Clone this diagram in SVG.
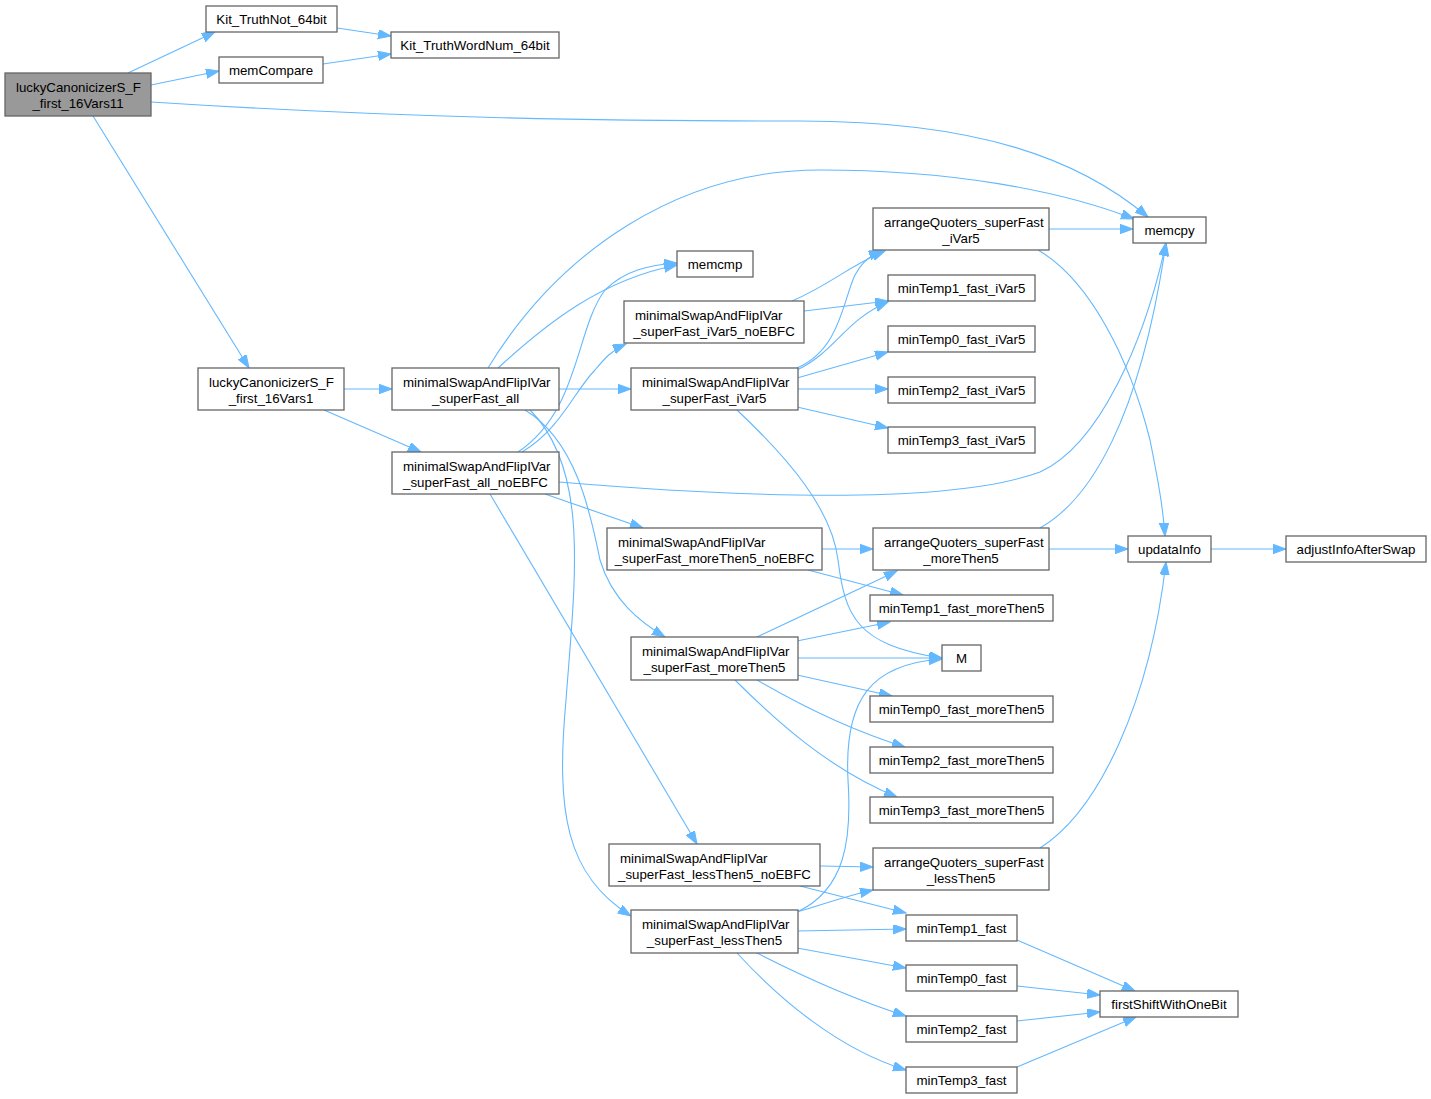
<svg xmlns="http://www.w3.org/2000/svg" width="1431" height="1099" viewBox="0 0 1431 1099">
<defs>
<style>
.n rect{fill:#ffffff;stroke:#666666;stroke-width:1.3}
.n.root rect{fill:#999999}
.n text{font-family:"Liberation Sans",Arial,sans-serif;font-size:13.3px;fill:#000000}
.m{text-anchor:middle}
.s{text-anchor:start}
#edges path{fill:none;stroke:#63b8ff;stroke-width:1.1;marker-end:url(#ah)}
</style>
<marker id="ah" markerUnits="userSpaceOnUse" markerWidth="15" markerHeight="11" refX="13" refY="4.7" orient="auto">
<path d="M0,0 L13,4.7 L0,9.4 z" fill="#63b8ff" stroke="#63b8ff" stroke-width="1"/>
</marker>
</defs>
<rect width="1431" height="1099" fill="#ffffff"/>
<g id="edges">
<path d="M128,73 L215,32"/>
<path d="M151,85 L219,71"/>
<path d="M337,28 L391,36"/>
<path d="M323,64 L391,54"/>
<path d="M151,102 C400,118 600,121 800,121 C980,121 1080,160 1148,217"/>
<path d="M93,116 L249,368"/>
<path d="M344,389 L392,389"/>
<path d="M324,410 L421,452"/>
<path d="M488,368 C560,250 680,170 820,170 C950,170 1060,190 1134,219"/>
<path d="M498,368 C545,325 600,280 677,265"/>
<path d="M518,452 C580,410 575,330 605,290 C625,270 650,265 677,263"/>
<path d="M522,452 C560,430 575,390 595,370 C605,358 612,350 626,344"/>
<path d="M559,389 L631,389"/>
<path d="M525,410 C575,440 590,510 600,560 C612,600 640,622 665,637"/>
<path d="M530,410 C590,470 575,580 566,700 C556,810 565,875 631,916"/>
<path d="M792,301 C830,285 850,265 885,251"/>
<path d="M797,368 C840,350 843,300 855,275 C862,262 870,255 882,251"/>
<path d="M804,311 L888,301"/>
<path d="M797,370 C835,352 845,320 888,302"/>
<path d="M797,378 L888,352"/>
<path d="M797,389 L888,389"/>
<path d="M797,407 L888,428"/>
<path d="M737,410 C790,460 832,510 838,560 C845,615 855,645 942,658"/>
<path d="M1049,229 L1133,229"/>
<path d="M1038,250 C1090,280 1130,360 1150,440 C1160,490 1163,510 1165,536"/>
<path d="M559,482 C750,498 950,505 1040,472 C1100,445 1145,340 1166,243"/>
<path d="M1040,528 C1090,500 1140,420 1166,243"/>
<path d="M1049,549 L1128,549"/>
<path d="M1211,549 L1286,549"/>
<path d="M1040,848 C1100,810 1150,700 1166,562"/>
<path d="M545,494 L643,528"/>
<path d="M490,494 L697,844"/>
<path d="M822,549 L873,549"/>
<path d="M808,570 L903,595"/>
<path d="M757,637 L897,571"/>
<path d="M797,641 L890,622"/>
<path d="M797,658 L942,658"/>
<path d="M797,675 L892,696"/>
<path d="M757,680 C800,705 850,730 905,747"/>
<path d="M735,680 C775,720 830,770 897,797"/>
<path d="M797,912 C845,890 852,840 848,780 C844,700 870,664 942,659"/>
<path d="M820,866 L873,867"/>
<path d="M800,886 L906,913"/>
<path d="M797,912 C830,902 850,895 873,890"/>
<path d="M797,931 L906,929"/>
<path d="M797,948 L906,968"/>
<path d="M757,953 C800,975 850,998 906,1016"/>
<path d="M737,953 C780,1000 840,1050 906,1070"/>
<path d="M1017,940 L1135,991"/>
<path d="M1017,986 L1100,995"/>
<path d="M1017,1021 L1100,1012"/>
<path d="M1017,1067 L1136,1017"/>
</g>
<g id="n0" class="n root"><rect x="5" y="73" width="146" height="43"/><text class="s" x="16" y="91.5">luckyCanonicizerS_F</text><text class="m" x="78" y="107.5">_first_16Vars11</text></g>
<g id="n1" class="n"><rect x="206" y="6" width="131" height="26"/><text class="m" x="271.5" y="24">Kit_TruthNot_64bit</text></g>
<g id="n2" class="n"><rect x="219" y="57" width="104" height="26"/><text class="m" x="271" y="75">memCompare</text></g>
<g id="n3" class="n"><rect x="391" y="32" width="168" height="26"/><text class="m" x="475" y="50">Kit_TruthWordNum_64bit</text></g>
<g id="n4" class="n"><rect x="1133" y="217" width="73" height="26"/><text class="m" x="1169.5" y="235">memcpy</text></g>
<g id="n5" class="n"><rect x="198" y="368" width="146" height="42"/><text class="s" x="209" y="386.5">luckyCanonicizerS_F</text><text class="m" x="271" y="402.5">_first_16Vars1</text></g>
<g id="n6" class="n"><rect x="392" y="368" width="167" height="42"/><text class="s" x="403" y="386.5">minimalSwapAndFlipIVar</text><text class="m" x="475.5" y="402.5">_superFast_all</text></g>
<g id="n7" class="n"><rect x="392" y="452" width="167" height="42"/><text class="s" x="403" y="470.5">minimalSwapAndFlipIVar</text><text class="m" x="475.5" y="486.5">_superFast_all_noEBFC</text></g>
<g id="n8" class="n"><rect x="677" y="251" width="76" height="26"/><text class="m" x="715" y="269">memcmp</text></g>
<g id="n9" class="n"><rect x="624" y="301" width="180" height="42"/><text class="s" x="635" y="319.5">minimalSwapAndFlipIVar</text><text class="m" x="714" y="335.5">_superFast_iVar5_noEBFC</text></g>
<g id="n10" class="n"><rect x="631" y="368" width="167" height="42"/><text class="s" x="642" y="386.5">minimalSwapAndFlipIVar</text><text class="m" x="714.5" y="402.5">_superFast_iVar5</text></g>
<g id="n11" class="n"><rect x="873" y="208" width="176" height="42"/><text class="s" x="884" y="226.5">arrangeQuoters_superFast</text><text class="m" x="961" y="242.5">_iVar5</text></g>
<g id="n12" class="n"><rect x="888" y="275" width="147" height="26"/><text class="m" x="961.5" y="293">minTemp1_fast_iVar5</text></g>
<g id="n13" class="n"><rect x="888" y="326" width="147" height="26"/><text class="m" x="961.5" y="344">minTemp0_fast_iVar5</text></g>
<g id="n14" class="n"><rect x="888" y="377" width="147" height="26"/><text class="m" x="961.5" y="395">minTemp2_fast_iVar5</text></g>
<g id="n15" class="n"><rect x="888" y="427" width="147" height="26"/><text class="m" x="961.5" y="445">minTemp3_fast_iVar5</text></g>
<g id="n16" class="n"><rect x="607" y="528" width="215" height="42"/><text class="s" x="618" y="546.5">minimalSwapAndFlipIVar</text><text class="m" x="714.5" y="562.5">_superFast_moreThen5_noEBFC</text></g>
<g id="n17" class="n"><rect x="873" y="528" width="176" height="42"/><text class="s" x="884" y="546.5">arrangeQuoters_superFast</text><text class="m" x="961" y="562.5">_moreThen5</text></g>
<g id="n18" class="n"><rect x="1128" y="536" width="83" height="26"/><text class="m" x="1169.5" y="554">updataInfo</text></g>
<g id="n19" class="n"><rect x="1286" y="536" width="140" height="26"/><text class="m" x="1356" y="554">adjustInfoAfterSwap</text></g>
<g id="n20" class="n"><rect x="870" y="595" width="183" height="26"/><text class="m" x="961.5" y="613">minTemp1_fast_moreThen5</text></g>
<g id="n21" class="n"><rect x="942" y="645" width="39" height="26"/><text class="m" x="961.5" y="663">M</text></g>
<g id="n22" class="n"><rect x="631" y="637" width="167" height="43"/><text class="s" x="642" y="655.5">minimalSwapAndFlipIVar</text><text class="m" x="714.5" y="671.5">_superFast_moreThen5</text></g>
<g id="n23" class="n"><rect x="870" y="696" width="183" height="26"/><text class="m" x="961.5" y="714">minTemp0_fast_moreThen5</text></g>
<g id="n24" class="n"><rect x="870" y="747" width="183" height="26"/><text class="m" x="961.5" y="765">minTemp2_fast_moreThen5</text></g>
<g id="n25" class="n"><rect x="870" y="797" width="183" height="26"/><text class="m" x="961.5" y="815">minTemp3_fast_moreThen5</text></g>
<g id="n26" class="n"><rect x="609" y="844" width="211" height="42"/><text class="s" x="620" y="862.5">minimalSwapAndFlipIVar</text><text class="m" x="714.5" y="878.5">_superFast_lessThen5_noEBFC</text></g>
<g id="n27" class="n"><rect x="873" y="848" width="176" height="42"/><text class="s" x="884" y="866.5">arrangeQuoters_superFast</text><text class="m" x="961" y="882.5">_lessThen5</text></g>
<g id="n28" class="n"><rect x="631" y="910" width="167" height="43"/><text class="s" x="642" y="928.5">minimalSwapAndFlipIVar</text><text class="m" x="714.5" y="944.5">_superFast_lessThen5</text></g>
<g id="n29" class="n"><rect x="906" y="915" width="111" height="26"/><text class="m" x="961.5" y="933">minTemp1_fast</text></g>
<g id="n30" class="n"><rect x="906" y="965" width="111" height="26"/><text class="m" x="961.5" y="983">minTemp0_fast</text></g>
<g id="n31" class="n"><rect x="906" y="1016" width="111" height="26"/><text class="m" x="961.5" y="1034">minTemp2_fast</text></g>
<g id="n32" class="n"><rect x="906" y="1067" width="111" height="26"/><text class="m" x="961.5" y="1085">minTemp3_fast</text></g>
<g id="n33" class="n"><rect x="1100" y="991" width="138" height="26"/><text class="m" x="1169" y="1009">firstShiftWithOneBit</text></g>
</svg>
